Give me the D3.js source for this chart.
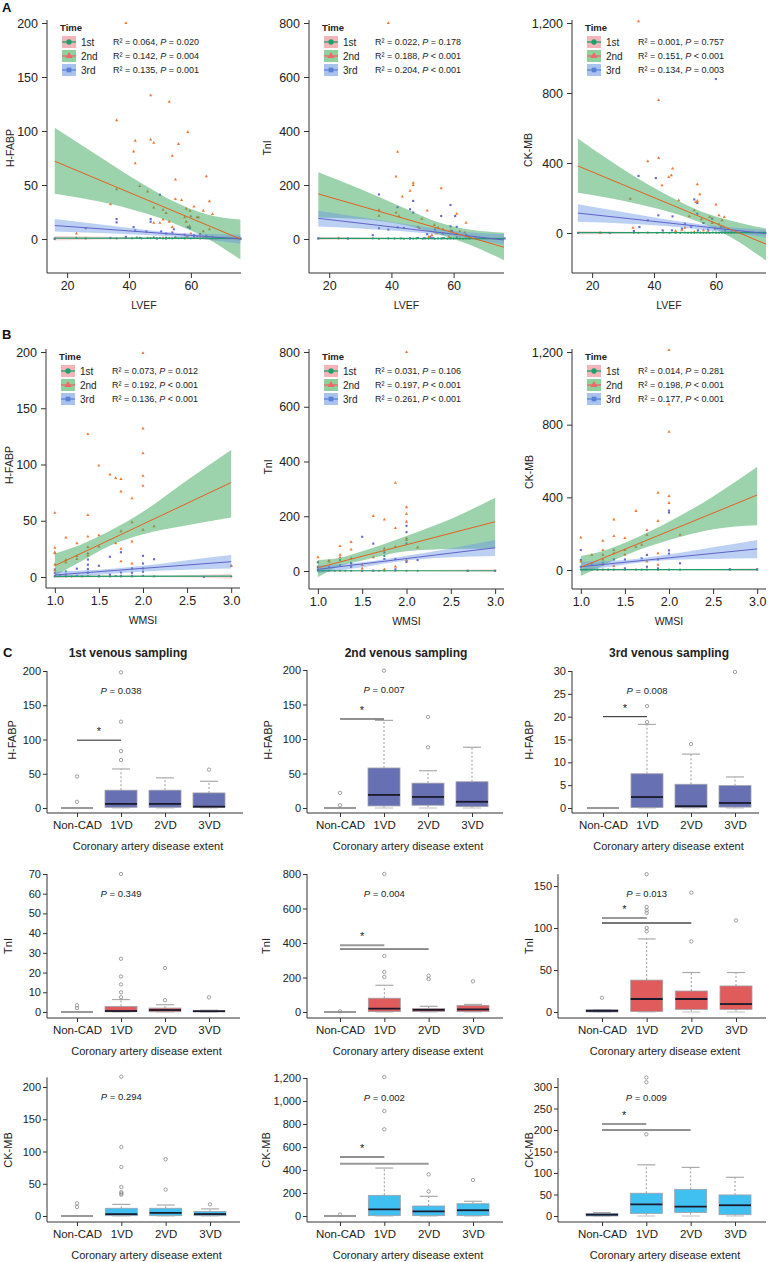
<!DOCTYPE html>
<html><head><meta charset="utf-8">
<script src="https://cdn.jsdelivr.net/npm/d3@7/dist/d3.min.js"></script>
<style>html,body{margin:0;padding:0;background:#fff}svg{display:block}</style>
</head><body>
<svg id="chart" width="768" height="1262" xmlns="http://www.w3.org/2000/svg"></svg>
<script>
const FONT = '"Liberation Sans", Arial, Helvetica, sans-serif';
const timeLabels = ["1st", "2nd", "3rd"];
const categories = ["Non-CAD", "1VD", "2VD", "3VD"];

// ---------- Panel A (LVEF) ----------
const a1_p1 = [[16,0.5],[23,1],[26,0.5],[34,0.8],[36,0.5],[39,1],[41,0.6],[42.5,1.2],[44,0.5],[46,1],[47,0.8],[48,1.5],[49,0.6],[50,1],[51,0.5],[52,1.2],[53,0.8],[54,0.5],[55,1.5],[56,0.7],[57,1],[58,0.5],[59,1.8],[60,0.6],[61,1],[62,2],[63,0.5],[64,1.2],[65,0.8],[67,1],[68,0.5],[76,0.5]];
const a1_p2 = [[39,200],[47,133],[53,127],[36,110],[59,99],[42,91],[47,92],[48,89],[56,88],[41.5,81],[54,77],[42,70],[65,58],[55,55],[34,32],[55,37],[57,36],[66,35],[61,30],[64,26],[67,23],[48,15],[50,15],[51,18],[53,16],[54,11],[23,5],[60,5],[63,3],[58.5,2],[51,1],[65,1],[67,2],[36,46],[43.5,49],[46,44],[48,29],[51,27],[52,24],[58,20],[58.5,28],[59.7,26],[60,21],[62,20],[62.5,20],[58.5,16],[59.6,12],[64,7],[66,9]];
const a1_p3 = [[50,41],[36,18.5],[36,15.4],[47,18.5],[47,16],[41.5,11],[42,8],[45.6,7],[50.4,7],[52,5],[54,6],[54.5,9],[59,11],[59.7,10],[26,10],[58,4],[61,3.5],[63,4.5],[65,3],[16,0],[34,1],[39,2],[43.5,1],[49,0.5],[52,0.5],[55,1],[58,1],[61,2],[67,0.5],[76,0]];
const a1_line1 = [[16,0.8],[76,0.6]];
const a1_line2 = [[16,72],[76,0]];
const a1_line3 = [[16,12.5],[76,0]];
const a1_band1 = [[16,-1.5,3],[50,0,1.6],[76,-1.5,2.8]];
const a1_band2 = [[16,42,103],[30,35,77],[45,24,50],[55,14,34],[65,1,23],[76,-19,18]];
const a1_band3 = [[16,7,18.5],[35,5,12],[50,3,7],[60,1,5],[76,-4.5,4]];
const a1_stats = [["0.064","=","0.020"],["0.142","=","0.004"],["0.135","=","0.001"]];

const a2_p1 = [[16.5,2],[23,2],[26,1.5],[34,2],[36,1],[39,2],[41,1.5],[43,2],[44,1],[46,2.5],[47,1.5],[48,2],[50,1],[51,2],[52,1.5],[53,2.5],[54,1],[55,2],[56,1.5],[57,3],[58,1],[59,2],[60,1.5],[62,2],[63,1],[64,2],[65,1.5]];
const a2_p2 = [[39,800],[42,323],[41.5,231],[47,208],[47,200],[46,178],[56,188],[43.5,157],[51.5,105],[61,93],[64,60],[49,40],[54.5,21],[53,14],[52,8],[23,3],[58.5,8],[61,18],[36,107],[36,86],[41.5,98],[42.4,85],[49.8,75],[48.5,45],[53.8,52],[55,42],[56.6,36],[59,30],[62,28],[63.6,24]];
const a2_p3 = [[36,165],[42,118],[46,110],[47,141],[47,98],[56,85],[59,126],[60.5,85],[36,40],[39,35],[42,43],[44,41],[34,14],[51.5,18],[52.5,8],[54,35],[56.5,20],[59.5,30],[61,45],[59,47],[64,15],[65,8],[67,5],[76.4,2],[16.5,2],[26,2],[46,2],[48.5,4],[50.5,3],[53.5,3],[56.5,3],[59,3],[61,6]];
const a2_line1 = [[16.5,2],[76.4,1.5]];
const a2_line2 = [[16.5,167],[76.4,-31]];
const a2_line3 = [[16.5,76.5],[76.4,-4]];
const a2_band1 = [[16.5,-4,8],[50,0,3.5],[76.4,-4,7]];
const a2_band2 = [[16.5,80,247],[30,74,185],[45,50,110],[55,18,62],[65,-20,35],[76.4,-80,23]];
const a2_band3 = [[16.5,46,105],[35,35,72],[50,22,45],[60,10,30],[76.4,-22,18]];
const a2_stats = [["0.022","=","0.178"],["0.188","<","0.001"],["0.204","<","0.001"]];

const a3_p1 = [[15.5,1],[22.6,2],[25.7,1],[33.5,2],[35,1],[38,2],[41,1],[43,3],[45,1],[47,2],[48.5,1],[50,3],[51,1],[52,2],[53,1],[54,3],[55,2],[56,1],[57,2],[58,1],[59,3],[60,2],[61,1],[62,2],[63,1],[64,2],[65,1],[66,2]];
const a3_p2 = [[35,1210],[41.5,760],[38,410],[41.5,428],[42.6,272],[46,368],[45.6,330],[44.8,320],[54,278],[54.8,221],[54,183],[53.5,177],[60,162],[61,101],[62.7,91],[62,72],[33.2,29],[50,29],[49,15],[47,11],[22.6,0],[53,6],[56,15],[57.5,6],[32.3,196],[48,187],[51.4,95],[53,130],[55.3,78],[58,91],[58.8,57],[61,50],[62.5,34]];
const a3_p3 = [[35,326],[40.6,314],[53,192],[54,171],[41.4,101],[38,72],[46,95],[50,53],[54,110],[56,57],[58.8,82],[59.7,25],[61.6,34],[35.3,34],[42.8,15],[45.8,15],[49,25],[52,34],[54.2,15],[57.5,19],[63,15],[65,6],[69,6],[76,0],[15.5,0],[25.7,0],[33.5,11],[60,880]];
const a3_line1 = [[15.4,2],[76.4,2]];
const a3_line2 = [[15.4,383],[76.4,-65]];
const a3_line3 = [[15.4,114],[76.4,-4]];
const a3_band1 = [[15.4,-8,12],[50,-1,5],[76.4,-8,12]];
const a3_band2 = [[15.4,230,540],[30,185,365],[45,120,210],[55,60,125],[65,-25,70],[76.4,-160,25]];
const a3_band3 = [[15.4,65,165],[35,50,105],[50,30,62],[60,10,40],[76.4,-25,18]];
const a3_stats = [["0.001","=","0.757"],["0.151","<","0.001"],["0.134","=","0.003"]];

// ---------- Panel B (WMSI) ----------
const b1_p1 = [[1.0,0.5],[1.06,0.8],[1.125,0.5],[1.19,0.5],[1.25,1],[1.31,0.5],[1.375,0.8],[1.5,0.5],[1.625,0.5],[1.69,0.8],[1.75,0.5],[1.875,0.5],[2.0,0.8],[2.125,0.5],[3.0,0.5],[1.125,5],[1.375,4]];
const b1_p2 = [[2.0,199],[2.0,132],[2.0,110],[2.0,90],[2.0,81],[1.375,127],[1.5,99],[1.625,91],[1.69,88],[1.75,87],[1.75,76],[1.875,70],[1.0,57],[1.375,55],[1.5,37],[1.375,36],[1.125,35],[1.0,26],[1.0,22],[1.0,21],[1.25,30],[1.75,25],[1.75,14],[1.875,12],[1.0,11],[3.0,10],[1.125,15],[1.25,16],[1.375,26.6],[1.375,21],[1.375,19],[1.5,27],[1.69,30],[1.75,40.7],[1.875,48.7],[1.875,31.6],[2.0,42],[2.125,45],[1.25,18.5],[1.125,13],[1.0,6]];
const b1_p3 = [[2.0,18.8],[2.125,15.8],[1.625,18],[1.75,22],[1.5,10],[1.375,15.5],[1.375,11],[1.375,7],[1.375,3.7],[1.25,7.4],[1.0,6.7],[1.0,3.7],[1.125,2],[2.0,12],[2.0,7.6],[2.0,4.7],[1.875,7.6],[1.875,3.7],[1.75,4],[1.625,2],[3.0,9.8],[2.69,0],[1.0,1],[1.25,1],[1.5,1],[1.75,1],[1.875,1],[2.0,1]];
const b1_line1 = [[1.0,0.5],[3.0,0.8]];
const b1_line2 = [[1.0,10],[3.0,84]];
const b1_line3 = [[1.0,1.8],[3.0,13.6]];
const b1_band1 = [[1.0,-0.8,1.8],[2.0,0,1.4],[3.0,-1.5,3]];
const b1_band2 = [[1.0,1,21],[1.3,14,29],[1.6,27,40],[2.0,38,58],[2.5,46,86],[3.0,53,113]];
const b1_band3 = [[1.0,-0.5,5],[1.5,2,6.5],[2.0,5,10],[2.5,6.5,15],[3.0,7.5,19.5]];
const b1_stats = [["0.073","=","0.012"],["0.192","<","0.001"],["0.136","<","0.001"]];

const b2_p1 = [[1.0,1],[1.06,1],[1.125,1],[1.19,1],[1.25,1],[1.31,1],[1.375,1],[1.5,1],[1.625,1],[1.69,1],[1.75,1],[1.875,1],[2.0,1],[2.125,1],[2.69,1],[3.0,1],[1.25,40],[1.375,30],[1.75,55]];
const b2_p2 = [[2.0,800],[1.875,322],[2.0,233],[2.0,209],[2.0,180],[1.625,201],[1.75,188],[1.875,157],[1.375,106],[1.375,78],[1.25,91],[1.0,50],[1.25,59],[1.125,34],[1.5,10],[1.875,16],[1.75,6],[2.0,40],[1.125,38],[1.25,50],[1.375,46],[1.5,22],[1.625,50],[1.75,82],[1.875,88],[2.0,119],[2.0,113],[2.125,86]];
const b2_p3 = [[2.0,165],[2.0,142],[2.0,100],[1.5,125],[1.625,100],[1.75,68],[1.75,44],[2.125,40],[1.875,44],[2.0,33],[1.375,15],[1.375,27],[1.25,21],[1.125,15],[1.0,32],[1.0,15],[1.0,6],[1.875,6],[1.5,1],[1.625,1],[3.0,1],[2.69,1]];
const b2_line1 = [[1.0,1],[3.0,1]];
const b2_line2 = [[1.0,12],[3.0,180]];
const b2_line3 = [[1.0,6],[3.0,85]];
const b2_band1 = [[1.0,-3,5],[2.0,-1,3],[3.0,-4,6]];
const b2_band2 = [[1.0,-23,40],[1.25,18,48],[1.5,38,72],[2.0,72,128],[2.5,80,190],[3.0,82,268]];
const b2_band3 = [[1.0,-8,20],[1.5,14,32],[2.0,38,56],[2.5,50,82],[3.0,55,113]];
const b2_stats = [["0.031","=","0.106"],["0.197","<","0.001"],["0.261","<","0.001"]];

const b3_p1 = [[1.0,2],[1.06,2],[1.125,2],[1.19,2],[1.25,2],[1.31,2],[1.375,2],[1.5,2],[1.625,2],[1.69,2],[1.75,2],[1.875,2],[2.0,2],[2.125,2],[2.69,2],[3.0,2]];
const b3_p2 = [[2.0,1210],[2.0,911],[2.0,761],[1.875,425],[2.0,407],[2.0,369],[1.875,270],[1.625,325],[1.375,278],[1.375,187],[1.25,161],[1.0,178],[1.75,220],[1.5,176],[1.875,28],[1.25,28],[1.0,46],[1.375,22],[1.125,37],[1.75,46],[1.125,83],[1.25,110],[1.25,83],[1.375,110],[1.375,92],[1.5,110],[1.5,83],[1.625,128],[1.69,138],[1.75,193],[2.125,193],[1.875,92],[1.25,58]];
const b3_p3 = [[2.0,327],[2.0,316],[1.0,110],[2.0,108],[2.0,90],[1.75,83],[1.875,58],[1.69,64],[2.125,37],[1.5,58],[1.375,58],[1.25,37],[1.125,28],[1.0,18],[1.0,55],[1.75,18],[1.875,9],[1.5,9],[3.0,4],[2.69,4]];
const b3_line1 = [[1.0,2],[3.0,2]];
const b3_line2 = [[1.0,15],[3.0,413]];
const b3_line3 = [[1.0,18],[3.0,116]];
const b3_band1 = [[1.0,-4,8],[2.0,-1,5],[3.0,-6,10]];
const b3_band2 = [[1.0,-33,77],[1.25,25,105],[1.5,80,150],[2.0,165,265],[2.5,225,405],[3.0,247,568]];
const b3_band3 = [[1.0,-8,45],[1.5,30,55],[2.0,55,85],[2.5,60,125],[3.0,64,165]];
const b3_stats = [["0.014","=","0.281"],["0.198","<","0.001"],["0.177","<","0.001"]];

// ---------- Panel C (box plots): [lower whisker, Q1, median, Q3, upper whisker] ----------
const hfabp1_box = [[0,0,0,0,0],[0,1,6,26,57],[0,1,6,26,44],[0,1,2,22,39]];
const hfabp1_out = [[46,9],[70,83,126,198],[],[56]];
const hfabp1_sig = [["Non-CAD","1VD",99]];
const hfabp2_box = [[0,0,0,0,0],[0,3,19,58,127],[0,4,16,36,54],[0,2,9,38,88]];
const hfabp2_out = [[22,4],[199],[88,132],[]];
const hfabp2_sig = [["Non-CAD","1VD",129]];
const hfabp3_box = [[0,0,0,0,0],[0,0.1,2.4,7.5,18.3],[0,0.1,0.4,5.2,11.8],[0,0.2,1.1,4.9,6.8]];
const hfabp3_out = [[],[18.8,22.3],[14],[29.8]];
const hfabp3_sig = [["Non-CAD","1VD",20]];

const tni1_box = [[0,0,0,0,0],[0,0.1,0.5,2.8,6.3],[0,0.1,1,2,3.7],[0,0.1,0.4,0.7,0.9]];
const tni1_out = [[3.4,2.0],[7.5,10,14,18,27,70],[6,22.3],[7.4]];
const tni1_sig = [];
const tni2_box = [[0,0,0,0,0],[0,2,19,80,155],[0,3,12,21,33],[0,2,15,38,44]];
const tni2_out = [[4],[203,232,325,800],[191,210],[178]];
const tni2_sig = [["Non-CAD","1VD",387],["Non-CAD","2VD",365]];
const tni3_box = [[0,0,1.5,2.5,2.5],[0,0.5,15.5,38,87],[0,3,15.5,25,47],[0,3,9.5,31,47]];
const tni3_out = [[17],[96,100,118,121,125,164],[84,142],[109]];
const tni3_sig = [["Non-CAD","1VD",112],["Non-CAD","2VD",106]];

const ckmb1_box = [[0,0,0,0,0],[0,0.5,3,12,18],[0,0.5,5,12,17],[0,0.5,3,7,11]];
const ckmb1_out = [[19.7,14],[33,35,37,45,76,107,216],[41,88],[18]];
const ckmb1_sig = [];
const ckmb2_box = [[0,0,0,0,0],[0,3,58,180,417],[0,3,41,87,171],[0,3,50,107,128]];
const ckmb2_out = [[13],[754,913,1209],[214,362],[313]];
const ckmb2_sig = [["Non-CAD","1VD",513],["Non-CAD","2VD",455]];
const ckmb3_box = [[0,0,3,6,8],[0,6,27,53,119],[0,8,22,62,113],[0,3,25,49,90]];
const ckmb3_out = [[],[190,311,322],[],[]];
const ckmb3_sig = [["Non-CAD","1VD",214],["Non-CAD","2VD",200]];

const pValues = ["0.038","0.007","0.008","0.349","0.004","0.013","0.294","0.002","0.009"];
const samplingTitles = ["1st venous sampling","2nd venous sampling","3rd venous sampling"];

// ---------- drawing ----------
const svg = d3.select("#chart").attr("font-family", FONT);
let clipN = 0;
const PT1 = "#23a06c", PT2 = "#f07a34", PT3 = "#6868d4";
const LN1 = "#1f9e6a", LN2 = "#e5611c", LN3 = "#6262c8";
const keyFill = ["#f5b5b8", "#8fd09c", "#aac3ee"];
const keyLine = ["#1f9e6e", "#f0686a", "#5a80d6"];

function styleAxis(g, fs) {
  g.attr("font-family", FONT).attr("font-size", fs);
  g.select(".domain").remove();
  g.selectAll(".tick line").attr("stroke", "#333");
  g.selectAll(".tick text").attr("fill", "#222");
}

function drawScatter(c, p1, p2, p3, bd1, bd2, bd3, l1, l2, l3, st) {
  const x = d3.scaleLinear().domain(c.xd).range([c.ax, c.xr]);
  const y = d3.scaleLinear().domain([0, c.ymax]).range([c.y0, c.yT]);
  const g = svg.append("g");
  const id = "clip" + (clipN++);
  svg.append("clipPath").attr("id", id).append("rect")
    .attr("x", c.ax).attr("y", c.yT - 10).attr("width", c.xr - c.ax).attr("height", c.xb - c.yT + 10);
  g.append("g").selectAll("circle").data(p1).join("circle")
    .attr("cx", d => x(d[0])).attr("cy", d => y(d[1])).attr("r", 1.1).attr("fill", PT1);
  g.append("g").selectAll("path").data(p3).join("path")
    .attr("transform", d => `translate(${x(d[0])},${y(d[1])})`)
    .attr("d", d3.symbol(d3.symbolSquare, 4.5)).attr("fill", PT3);
  g.append("g").selectAll("path").data(p2).join("path")
    .attr("transform", d => `translate(${x(d[0])},${y(d[1])})`)
    .attr("d", d3.symbol(d3.symbolTriangle, 4.5)).attr("fill", PT2);
  const area = d3.area().x(d => x(d[0])).y0(d => y(d[1])).y1(d => y(d[2])).curve(d3.curveMonotoneX);
  const line = d3.line().x(d => x(d[0])).y(d => y(d[1]));
  const cg = g.append("g").attr("clip-path", `url(#${id})`);
  cg.append("path").attr("d", area(bd1)).attr("fill", "#f08a90").attr("opacity", 0.35);
  cg.append("path").attr("d", area(bd2)).attr("fill", "#3aa55a").attr("opacity", 0.5);
  cg.append("path").attr("d", area(bd3)).attr("fill", "#6b96e6").attr("opacity", 0.45);
  cg.append("path").attr("d", line(l1)).attr("stroke", LN1).attr("stroke-width", 1.2).attr("fill", "none");
  cg.append("path").attr("d", line(l3)).attr("stroke", LN3).attr("stroke-width", 1).attr("fill", "none");
  cg.append("path").attr("d", line(l2)).attr("stroke", LN2).attr("stroke-width", 1).attr("fill", "none");
  // axes
  const yg = g.append("g").attr("transform", `translate(${c.ax},0)`)
    .call(d3.axisLeft(y).tickValues(c.yticks).tickSize(5).tickPadding(4).tickFormat(d3.format(",")));
  styleAxis(yg, 12.5);
  const xg = g.append("g").attr("transform", `translate(0,${c.xb})`)
    .call(d3.axisBottom(x).tickValues(c.xticks).tickSize(5).tickPadding(3).tickFormat(c.xfmt));
  styleAxis(xg, 12.5);
  g.append("path").attr("d", `M${c.ax},${c.yT - 3}V${c.xb}H${c.xr}`).attr("stroke", "#333").attr("fill", "none");
  g.append("text").attr("x", (c.ax + c.xr) / 2).attr("y", c.xb + 33).attr("text-anchor", "middle")
    .attr("dominant-baseline", "middle").attr("font-size", 10.5).attr("fill", "#222").text(c.xtitle);
  g.append("text").attr("transform", `translate(${c.ytx},${c.yty}) rotate(-90)`).attr("text-anchor", "middle")
    .attr("dominant-baseline", "middle").attr("font-size", 10.5).attr("fill", "#222").text(c.ytitle);
  // legend
  const lg = g.append("g").attr("transform", `translate(${c.ax + 13},${c.yT + 5})`);
  lg.append("text").attr("dy", "0.35em").attr("font-size", 9.5).attr("font-weight", "bold").attr("fill", "#222").text("Time");
  timeLabels.forEach((lab, i) => {
    const yy = 14 * (i + 1);
    lg.append("rect").attr("x", 2).attr("y", yy - 6).attr("width", 14).attr("height", 12).attr("fill", keyFill[i]);
    lg.append("line").attr("x1", 2).attr("x2", 16).attr("y1", yy).attr("y2", yy).attr("stroke", keyLine[i]).attr("stroke-width", 1.3);
    const sym = [d3.symbolCircle, d3.symbolTriangle, d3.symbolSquare][i];
    lg.append("path").attr("transform", `translate(9,${yy})`).attr("d", d3.symbol(sym, 22)).attr("fill", keyLine[i]);
    lg.append("text").attr("x", 21).attr("y", yy).attr("dy", "0.35em").attr("font-size", 10).attr("fill", "#222").text(lab);
    const t = lg.append("text").attr("x", 53).attr("y", yy).attr("dy", "0.35em").attr("font-size", 9).attr("fill", "#222");
    t.append("tspan").text(`R\u00B2 = ${st[i][0]}, `);
    t.append("tspan").attr("font-style", "italic").text("P");
    t.append("tspan").text(` ${st[i][1]} ${st[i][2]}`);
  });
}

const fmtInt = d3.format("d");
const fmt1 = d3.format(".1f");
const A = {xd: [13.5, 76.2], xticks: [20, 40, 60], xfmt: fmtInt, xb: 273, xtitle: "LVEF"};
const B = {xd: [0.9, 3.1], xticks: [1.0, 1.5, 2.0, 2.5, 3.0], xfmt: fmt1, xtitle: "WMSI"};

drawScatter({...A, ax: 47, xr: 241, ymax: 200, y0: 239, yT: 23, yticks: [0,50,100,150,200], ytitle: "H-FABP", ytx: 11, yty: 148},
  a1_p1, a1_p2, a1_p3, a1_band1, a1_band2, a1_band3, a1_line1, a1_line2, a1_line3, a1_stats);
drawScatter({...A, ax: 309, xr: 504, ymax: 800, y0: 239, yT: 23, yticks: [0,200,400,600,800], ytitle: "TnI", ytx: 268, yty: 148},
  a2_p1, a2_p2, a2_p3, a2_band1, a2_band2, a2_band3, a2_line1, a2_line2, a2_line3, a2_stats);
drawScatter({...A, ax: 572, xr: 766, ymax: 1200, y0: 233, yT: 23, yticks: [0,400,800,1200], ytitle: "CK-MB", ytx: 529, yty: 150},
  a3_p1, a3_p2, a3_p3, a3_band1, a3_band2, a3_band3, a3_line1, a3_line2, a3_line3, a3_stats);
drawScatter({...B, ax: 46, xr: 240, xb: 588, ymax: 200, y0: 577, yT: 352, yticks: [0,50,100,150,200], ytitle: "H-FABP", ytx: 10, yty: 465},
  b1_p1, b1_p2, b1_p3, b1_band1, b1_band2, b1_band3, b1_line1, b1_line2, b1_line3, b1_stats);
drawScatter({...B, ax: 309, xr: 504, xb: 589, ymax: 800, y0: 571, yT: 352, yticks: [0,200,400,600,800], ytitle: "TnI", ytx: 269, yty: 467},
  b2_p1, b2_p2, b2_p3, b2_band1, b2_band2, b2_band3, b2_line1, b2_line2, b2_line3, b2_stats);
drawScatter({...B, ax: 572, xr: 766, xb: 589, ymax: 1200, y0: 570, yT: 352, yticks: [0,400,800,1200], ytitle: "CK-MB", ytx: 530, yty: 472},
  b3_p1, b3_p2, b3_p3, b3_band1, b3_band2, b3_band3, b3_line1, b3_line2, b3_line3, b3_stats);

function drawBox(c, boxes, outs, sig, pval) {
  const x = d3.scalePoint().domain(categories).range([c.c0, c.c1]);
  const y = d3.scaleLinear().domain([0, c.tmax]).range([c.y0, c.yt]);
  const g = svg.append("g");
  const bw = 32, cw = 18;
  boxes.forEach((b, i) => {
    const cx = x(categories[i]);
    const fill = (c.fills && c.fills[i]) || c.fill;
    const flat = (y(b[1]) - y(b[3])) < 1;
    if (!flat) {
      g.append("line").attr("x1", cx).attr("x2", cx).attr("y1", y(b[3])).attr("y2", y(b[4]))
        .attr("stroke", "#999").attr("stroke-dasharray", "2,2");
      g.append("line").attr("x1", cx).attr("x2", cx).attr("y1", y(b[1])).attr("y2", y(b[0]))
        .attr("stroke", "#999").attr("stroke-dasharray", "2,2");
      g.append("line").attr("x1", cx - cw / 2).attr("x2", cx + cw / 2).attr("y1", y(b[4])).attr("y2", y(b[4])).attr("stroke", "#aaa").attr("stroke-width", 1.2);
      g.append("line").attr("x1", cx - cw / 2).attr("x2", cx + cw / 2).attr("y1", y(b[0])).attr("y2", y(b[0])).attr("stroke", "#ccc").attr("stroke-width", 1.2);
      g.append("rect").attr("x", cx - bw / 2).attr("width", bw).attr("y", y(b[3])).attr("height", y(b[1]) - y(b[3]))
        .attr("fill", fill).attr("stroke", "#a0a0a8").attr("stroke-width", 0.8);
      g.append("line").attr("x1", cx - bw / 2).attr("x2", cx + bw / 2).attr("y1", y(b[2])).attr("y2", y(b[2]))
        .attr("stroke", "#1a1a2a").attr("stroke-width", 1.8);
    } else {
      g.append("line").attr("x1", cx - bw / 2).attr("x2", cx + bw / 2).attr("y1", y(b[2])).attr("y2", y(b[2]))
        .attr("stroke", "#999").attr("stroke-width", 2);
    }
    g.append("g").selectAll("circle").data(outs[i]).join("circle")
      .attr("cx", cx).attr("cy", d => y(d)).attr("r", 1.7).attr("fill", "none").attr("stroke", "#888").attr("stroke-width", 0.8);
  });
  // significance bars
  sig.forEach((s, j) => {
    g.append("line").attr("x1", x(s[0])).attr("x2", x(s[1])).attr("y1", y(s[2])).attr("y2", y(s[2]))
      .attr("stroke", c.sigCol[j]).attr("stroke-width", c.sigW[j]);
  });
  if (sig.length) {
    const top = d3.max(sig, s => s[2]);
    g.append("text").attr("x", (x(sig[0][0]) + x(sig[0][1])) / 2).attr("y", y(top) - 5)
      .attr("text-anchor", "middle").attr("font-size", 11).attr("fill", "#222").text("*");
  }
  const pt = g.append("text").attr("x", x("1VD")).attr("y", y(c.top) + 20).attr("text-anchor", "middle")
    .attr("dominant-baseline", "middle").attr("font-size", 9.5).attr("fill", "#222");
  pt.append("tspan").attr("font-style", "italic").text("P");
  pt.append("tspan").text(" = " + pval);
  // axes
  const yg = g.append("g").attr("transform", `translate(${c.ax},0)`)
    .call(d3.axisLeft(y).tickValues(c.ticks).tickSize(4).tickPadding(2).tickFormat(d3.format(",")));
  styleAxis(yg, 11);
  const xg = g.append("g").attr("transform", `translate(0,${c.xb})`)
    .call(d3.axisBottom(x).tickSize(4).tickPadding(4));
  styleAxis(xg, 11.5);
  g.append("path").attr("d", `M${c.ax},${y(c.top)}V${c.xb}H${c.xr}`).attr("stroke", "#333").attr("fill", "none");
  g.append("text").attr("x", (c.ax + c.xr) / 2 + 3).attr("y", c.xb + 34).attr("text-anchor", "middle")
    .attr("dominant-baseline", "middle").attr("font-size", 11).attr("fill", "#222").text("Coronary artery disease extent");
  g.append("text").attr("transform", `translate(${c.ytx},${c.yty}) rotate(-90)`).attr("text-anchor", "middle")
    .attr("dominant-baseline", "middle").attr("font-size", 11).attr("fill", "#222").text(c.ytitle);
  if (c.title) {
    g.append("text").attr("x", c.titleX).attr("y", 654).attr("text-anchor", "middle").attr("dominant-baseline", "middle")
      .attr("font-size", 12).attr("font-weight", "bold").attr("fill", "#222").text(c.title);
  }
}

const BLUE = "#6670b2", RED = "#e05c5c", CYAN = "#40c0f0";
const GRAY2 = ["#999", "#222"], BLK2 = ["#222", "#999"];
drawBox({ax: 47, xr: 243, xb: 813, c0: 77, c1: 209, y0: 808, yt: 671, tmax: 200, top: 200, ticks: [0,50,100,150,200], fill: BLUE,
  ytitle: "H-FABP", ytx: 13, yty: 740, title: samplingTitles[0], titleX: 128, sigCol: ["#222"], sigW: [1]},
  hfabp1_box, hfabp1_out, hfabp1_sig, pValues[0]);
drawBox({ax: 307, xr: 503, xb: 813, c0: 340, c1: 472, y0: 808, yt: 670, tmax: 200, top: 200, ticks: [0,50,100,150,200], fill: BLUE,
  ytitle: "H-FABP", ytx: 269, yty: 740, title: samplingTitles[1], titleX: 406, sigCol: ["#222"], sigW: [1]},
  hfabp2_box, hfabp2_out, hfabp2_sig, pValues[1]);
drawBox({ax: 572, xr: 759, xb: 813, c0: 603, c1: 735, y0: 808, yt: 671, tmax: 30, top: 30, ticks: [0,5,10,15,20,25,30], fill: BLUE,
  ytitle: "H-FABP", ytx: 530, yty: 740, title: samplingTitles[2], titleX: 669, sigCol: ["#222"], sigW: [1]},
  hfabp3_box, hfabp3_out, hfabp3_sig, pValues[2]);

drawBox({ax: 47, xr: 240, xb: 1018, c0: 77, c1: 209, y0: 1012, yt: 874, tmax: 70, top: 70, ticks: [0,10,20,30,40,50,60,70], fill: RED,
  ytitle: "TnI", ytx: 9, yty: 946},
  tni1_box, tni1_out, tni1_sig, pValues[3]);
drawBox({ax: 307, xr: 503, xb: 1018, c0: 340, c1: 473, y0: 1012, yt: 874, tmax: 800, top: 800, ticks: [0,200,400,600,800], fill: RED,
  ytitle: "TnI", ytx: 267, yty: 946, sigCol: GRAY2, sigW: [2, 1]},
  tni2_box, tni2_out, tni2_sig, pValues[4]);
drawBox({ax: 558, xr: 766, xb: 1018, c0: 602, c1: 736, y0: 1012, yt: 886, tmax: 150, top: 164, ticks: [0,50,100,150], fill: RED,
  fills: ["#2b3a8a"], ytitle: "TnI", ytx: 530, yty: 946, sigCol: ["#999", "#777"], sigW: [2, 2]},
  tni3_box, tni3_out, tni3_sig, pValues[5]);

drawBox({ax: 47, xr: 240, xb: 1222, c0: 77, c1: 210, y0: 1216, yt: 1087, tmax: 200, top: 215, ticks: [0,50,100,150,200], fill: CYAN,
  ytitle: "CK-MB", ytx: 9, yty: 1150},
  ckmb1_box, ckmb1_out, ckmb1_sig, pValues[6]);
drawBox({ax: 307, xr: 503, xb: 1222, c0: 340, c1: 473, y0: 1216, yt: 1078, tmax: 1200, top: 1200, ticks: [0,200,400,600,800,1000,1200], fill: CYAN,
  ytitle: "CK-MB", ytx: 267, yty: 1150, sigCol: BLK2, sigW: [1, 2]},
  ckmb2_box, ckmb2_out, ckmb2_sig, pValues[7]);
drawBox({ax: 558, xr: 766, xb: 1222, c0: 602, c1: 735, y0: 1216, yt: 1087, tmax: 300, top: 321, ticks: [0,50,100,150,200,250,300], fill: CYAN,
  ytitle: "CK-MB", ytx: 530, yty: 1150, sigCol: GRAY2, sigW: [2, 1]},
  ckmb3_box, ckmb3_out, ckmb3_sig, pValues[8]);

// panel letters
[["A", 2, 9], ["B", 2, 336], ["C", 3, 654]].forEach(d => {
  svg.append("text").attr("x", d[1]).attr("y", d[2]).attr("dominant-baseline", "middle")
    .attr("font-size", 13).attr("font-weight", "bold").attr("fill", "#111").text(d[0]);
});
</script>
</body></html>
